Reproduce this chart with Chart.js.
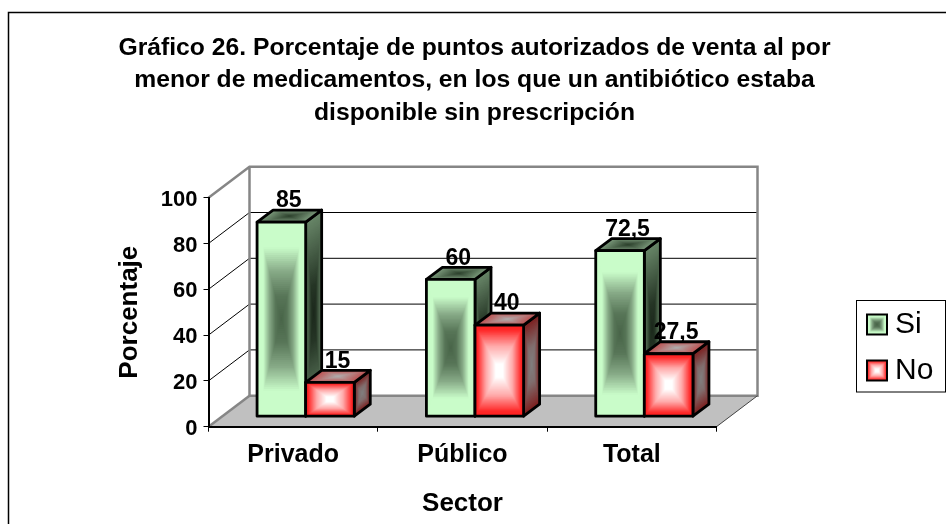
<!DOCTYPE html>
<html><head><meta charset="utf-8">
<style>html,body{margin:0;padding:0;background:#fff}#wrap{width:946px;height:524px}canvas{display:block}</style>
<script src="https://cdn.jsdelivr.net/npm/chart.js@4/dist/chart.umd.min.js"></script>
</head><body><div id="wrap"><canvas id="c" width="946" height="524"></canvas></div>
<script>
const titleLines = ["Gráfico 26. Porcentaje de puntos autorizados de venta al por","menor de medicamentos, en los que un antibiótico estaba","disponible sin prescripción"];
const categories = ["Privado","Público","Total"];
const seriesNames = ["Si","No"];
const siValues = [85,60,72.5];
const noValues = [15,40,27.5];
const yAxisTitle = "Porcentaje";
const xAxisTitle = "Sector";

const FONT = "'Liberation Sans', Arial, sans-serif";
const WALL = {dx:41, dy:31};
const BAR = {ox:12.5, oy:-10, dx:16, dy:12};
const RAMP = {
  Si:{front:[[0,[72,100,72]],[0.25,[88,118,88]],[0.5,[135,170,135]],[0.75,[201,252,201]],[1,[201,252,201]]],
      side:[[0,[28,40,28]],[0.3,[38,54,38]],[1,[104,134,104]]],
      top:[[0,[45,65,45]],[1,[125,155,125]]]},
  No:{front:[[0,[255,255,255]],[0.15,[255,255,255]],[0.55,[255,170,170]],[0.9,[255,40,40]],[1,[255,30,30]]],
      side:[[0,[128,128,128]],[0.4,[128,110,110]],[1,[125,30,30]]],
      top:[[0,[175,175,175]],[1,[190,80,80]]]}
};
function rampColor(stops,t){
  for(let i=1;i<stops.length;i++){
    if(t<=stops[i][0]){
      const a=stops[i-1],b=stops[i],f=(t-a[0])/((b[0]-a[0])||1);
      const c=a[1].map((v,k)=>Math.round(v+(b[1][k]-v)*f));
      return `rgb(${c[0]},${c[1]},${c[2]})`;
    }
  }
  const l=stops[stops.length-1][1];return `rgb(${l[0]},${l[1]},${l[2]})`;
}
function boxGradient(ctx,q,stops){
  const cx=(q[0][0]+q[2][0])/2,cy=(q[0][1]+q[2][1])/2,N=50;
  for(let i=N;i>=1;i--){
    const t=i/N;
    ctx.beginPath();
    q.forEach((p,k)=>{const x=cx+(p[0]-cx)*t,y=cy+(p[1]-cy)*t;k?ctx.lineTo(x,y):ctx.moveTo(x,y);});
    ctx.closePath();ctx.fillStyle=rampColor(stops,t);ctx.fill();
  }
}
function outline(ctx,q){
  ctx.beginPath();q.forEach((p,k)=>k?ctx.lineTo(p[0],p[1]):ctx.moveTo(p[0],p[1]));ctx.closePath();
  ctx.strokeStyle='#000';ctx.lineWidth=2.8;ctx.lineJoin='round';ctx.stroke();
}
function swatch(name){
  const cv=document.createElement('canvas');cv.width=30;cv.height=24;
  const g=cv.getContext('2d');
  const q=[[9,2],[29,2],[29,22],[9,22]];
  boxGradient(g,q,RAMP[name].front);
  g.strokeStyle='#000';g.lineWidth=2;g.strokeRect(9,2,20,20);
  return cv;
}
const scene = {
  id:'scene',
  afterLayout(chart){
    const t=chart.titleBlock; t.left=0; t.right=949;
    const l=chart.legend; l.left=850; l.top=293.5; l.right=946; l.bottom=450; l.width=96; l.height=156.5;
  },
  beforeDraw(chart){
    const {ctx,chartArea:a,scales:{y}}=chart, d=WALL;
    ctx.save();
    ctx.fillStyle='#fff';ctx.fillRect(0,0,946,524);
    ctx.strokeStyle='#000';ctx.lineWidth=1.5;
    ctx.beginPath();ctx.moveTo(8.5,530);ctx.lineTo(8.5,12.5);ctx.lineTo(950,12.5);ctx.stroke();
    // floor
    ctx.beginPath();ctx.moveTo(a.left,a.bottom);ctx.lineTo(a.left+d.dx,a.bottom-d.dy);
    ctx.lineTo(a.right+d.dx,a.bottom-d.dy);ctx.lineTo(a.right,a.bottom);ctx.closePath();
    ctx.fillStyle='#c0c0c0';ctx.fill();
    // grid from the value scale
    ctx.lineWidth=1;ctx.strokeStyle='#000';
    y.ticks.forEach(tk=>{
      if(tk.value===0||tk.value===100)return;
      const py=y.getPixelForValue(tk.value);
      ctx.beginPath();ctx.moveTo(a.left,py);ctx.lineTo(a.left+d.dx,py-d.dy);ctx.lineTo(a.right+d.dx,py-d.dy);ctx.stroke();
    });
    // walls
    ctx.strokeStyle='#868686';ctx.lineWidth=2.5;
    ctx.beginPath();ctx.moveTo(a.left,a.top);ctx.lineTo(a.left+d.dx,a.top-d.dy);ctx.lineTo(a.right+d.dx,a.top-d.dy);
    ctx.lineTo(a.right+d.dx,a.bottom-d.dy);ctx.lineTo(a.left+d.dx,a.bottom-d.dy);ctx.lineTo(a.left+d.dx,a.top-d.dy);ctx.stroke();
    ctx.beginPath();ctx.moveTo(a.left,a.bottom);ctx.lineTo(a.left+d.dx,a.bottom-d.dy);ctx.stroke();
    ctx.strokeStyle='#444';ctx.lineWidth=1;
    ctx.beginPath();ctx.moveTo(a.right,a.bottom);ctx.lineTo(a.right+d.dx,a.bottom-d.dy);ctx.stroke();
    // legend box
    ctx.strokeStyle='#000';ctx.lineWidth=1;ctx.strokeRect(856.5,300.5,89,91.5);
    ctx.restore();
  },
  beforeDatasetDraw(chart){
    chart.ctx.save();chart.ctx.translate(BAR.ox,BAR.oy);
  },
  afterDatasetDraw(chart){
    chart.ctx.restore();
  },
  afterDatasetsDraw(chart){
    const {ctx}=chart;
    ctx.save();ctx.translate(BAR.ox,BAR.oy);
    seriesNames.forEach((name,i)=>{
      chart.getDatasetMeta(i).data.forEach(el=>{
        const l=el.x-el.width/2,r=el.x+el.width/2,t=el.y,b=el.base,dx=BAR.dx,dy=BAR.dy;
        const side=[[r,t],[r+dx,t-dy],[r+dx,b-dy],[r,b]];
        const top=[[l,t],[l+dx,t-dy],[r+dx,t-dy],[r,t]];
        const front=[[l,t],[r,t],[r,b],[l,b]];
        boxGradient(ctx,side,RAMP[name].side);outline(ctx,side);
        boxGradient(ctx,top,RAMP[name].top);outline(ctx,top);
        boxGradient(ctx,front,RAMP[name].front);outline(ctx,front);
      });
    });
    ctx.restore();
    ctx.save();
    ctx.font="bold 23px "+FONT;ctx.fillStyle='#000';ctx.textAlign='center';ctx.textBaseline='middle';
    chart.data.datasets.forEach((ds,i)=>{
      chart.getDatasetMeta(i).data.forEach((el,j)=>{
        ctx.fillText(String(ds.data[j]).replace('.',','),el.x+BAR.ox+7.5,el.y+BAR.oy-21);
      });
    });
    ctx.restore();
  }
};
new Chart(document.getElementById('c'),{
  type:'bar',
  data:{labels:categories,datasets:[
    {label:seriesNames[0],data:siValues,backgroundColor:'#c9fcc9',borderColor:'#000',borderWidth:2,clip:false},
    {label:seriesNames[1],data:noValues,backgroundColor:'#ff3030',borderColor:'#000',borderWidth:2,clip:false}
  ]},
  options:{
    responsive:false,animation:false,devicePixelRatio:1,
    layout:{padding:{left:0,right:229.5,top:0,bottom:0}},
    datasets:{bar:{categoryPercentage:0.574,barPercentage:1}},
    plugins:{
      tooltip:{enabled:false},
      title:{display:true,text:titleLines,color:'#000',
        font:{family:FONT,size:24.7,weight:'bold',lineHeight:'32.5px'},
        padding:{top:31.5,bottom:68.7}},
      legend:{display:true,position:'chartArea',align:'start',
        labels:{usePointStyle:true,boxWidth:14,boxHeight:14,padding:16,color:'#000',
          font:{family:FONT,size:30,lineHeight:1},
          generateLabels(){return seriesNames.map((n,i)=>({text:n,pointStyle:swatch(n),fillStyle:'#fff',strokeStyle:'#000',lineWidth:0,datasetIndex:i,fontColor:'#000'}));}
        }}
    },
    scales:{
      x:{grid:{display:true,drawOnChartArea:false,color:'#000',tickLength:5,lineWidth:1},
        border:{color:'#000',width:2},
        ticks:{color:'#000',padding:8,maxRotation:0,font:{family:FONT,size:25,weight:'bold'}},
        title:{display:true,text:xAxisTitle,color:'#000',padding:{top:0,bottom:4.4},font:{family:FONT,size:26,weight:'bold'}},
        afterFit(s){s.height=97.3;}},
      y:{min:0,max:100,grid:{display:true,drawOnChartArea:false,color:'#000',tickLength:5,lineWidth:1},
        border:{color:'#000',width:2},
        ticks:{stepSize:20,color:'#000',padding:6,labelOffset:2,font:{family:FONT,size:22,weight:'bold'}},
        title:{display:true,text:yAxisTitle,color:'#000',padding:{top:114.4,bottom:0},font:{family:FONT,size:26,weight:'bold'}},
        afterFit(s){s.width=208.5;}}
    }
  },
  plugins:[scene]
});
</script></body></html>
